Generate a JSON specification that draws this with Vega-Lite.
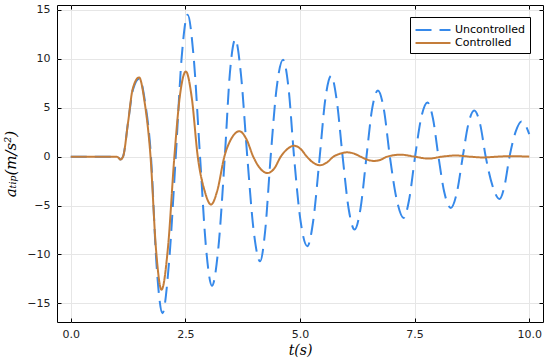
{
  "$schema": "https://vega.github.io/schema/vega-lite/v6.json",
  "autosize": {"type": "none"},
  "width": 486,
  "height": 317,
  "padding": {"left": 57, "top": 5, "right": 7, "bottom": 39},
  "background": "white",
  "config": {
    "view": {"stroke": "#000", "strokeWidth": 1},
    "axis": {
      "labelFont": "DejaVu Sans",
      "labelFontSize": 11,
      "labelColor": "#222",
      "tickColor": "#000",
      "tickSize": -4,
      "domain": false,
      "gridColor": "#e6e6e6",
      "gridWidth": 1,
      "titleFont": "DejaVu Serif",
      "titleFontStyle": "italic",
      "titleFontWeight": "normal",
      "titleFontSize": 14,
      "titleColor": "#000"
    },
    "legend": {
      "labelFont": "DejaVu Sans",
      "labelFontSize": 11,
      "labelColor": "#000"
    }
  },
  "data": {
    "values": [
      {"series": "Uncontrolled", "t": 0, "a": 0},
      {"series": "Uncontrolled", "t": 0.5, "a": 0},
      {"series": "Uncontrolled", "t": 1.0, "a": 0},
      {"series": "Uncontrolled", "t": 1.04, "a": -0.1},
      {"series": "Uncontrolled", "t": 1.08, "a": -0.3},
      {"series": "Uncontrolled", "t": 1.14, "a": 0},
      {"series": "Uncontrolled", "t": 1.25, "a": 3.5},
      {"series": "Uncontrolled", "t": 1.36, "a": 6.9},
      {"series": "Uncontrolled", "t": 1.5, "a": 8.0},
      {"series": "Uncontrolled", "t": 1.62, "a": 5.6},
      {"series": "Uncontrolled", "t": 1.75, "a": 0},
      {"series": "Uncontrolled", "t": 1.87, "a": -11.0},
      {"series": "Uncontrolled", "t": 2.0, "a": -16.0},
      {"series": "Uncontrolled", "t": 2.14, "a": -11.0},
      {"series": "Uncontrolled", "t": 2.29, "a": 0},
      {"series": "Uncontrolled", "t": 2.42, "a": 10.2},
      {"series": "Uncontrolled", "t": 2.55, "a": 14.5},
      {"series": "Uncontrolled", "t": 2.68, "a": 10.2},
      {"series": "Uncontrolled", "t": 2.82, "a": 0},
      {"series": "Uncontrolled", "t": 2.95, "a": -9.3},
      {"series": "Uncontrolled", "t": 3.08, "a": -13.2},
      {"series": "Uncontrolled", "t": 3.22, "a": -9.3},
      {"series": "Uncontrolled", "t": 3.36, "a": 0},
      {"series": "Uncontrolled", "t": 3.47, "a": 8.5},
      {"series": "Uncontrolled", "t": 3.59, "a": 12.0},
      {"series": "Uncontrolled", "t": 3.71, "a": 8.5},
      {"series": "Uncontrolled", "t": 3.85, "a": 0},
      {"series": "Uncontrolled", "t": 3.99, "a": -7.6},
      {"series": "Uncontrolled", "t": 4.13, "a": -10.7},
      {"series": "Uncontrolled", "t": 4.24, "a": -7.6},
      {"series": "Uncontrolled", "t": 4.36, "a": 0},
      {"series": "Uncontrolled", "t": 4.49, "a": 7.0},
      {"series": "Uncontrolled", "t": 4.63, "a": 9.9},
      {"series": "Uncontrolled", "t": 4.75, "a": 7.0},
      {"series": "Uncontrolled", "t": 4.87, "a": 0},
      {"series": "Uncontrolled", "t": 5.01, "a": -6.5},
      {"series": "Uncontrolled", "t": 5.16, "a": -9.15},
      {"series": "Uncontrolled", "t": 5.29, "a": -6.5},
      {"series": "Uncontrolled", "t": 5.43, "a": 0},
      {"series": "Uncontrolled", "t": 5.55, "a": 5.8},
      {"series": "Uncontrolled", "t": 5.68, "a": 8.27},
      {"series": "Uncontrolled", "t": 5.8, "a": 5.8},
      {"series": "Uncontrolled", "t": 5.93, "a": 0},
      {"series": "Uncontrolled", "t": 6.06, "a": -5.3},
      {"series": "Uncontrolled", "t": 6.19, "a": -7.45},
      {"series": "Uncontrolled", "t": 6.32, "a": -5.3},
      {"series": "Uncontrolled", "t": 6.45, "a": 0},
      {"series": "Uncontrolled", "t": 6.57, "a": 4.8},
      {"series": "Uncontrolled", "t": 6.7, "a": 6.77},
      {"series": "Uncontrolled", "t": 6.83, "a": 4.8},
      {"series": "Uncontrolled", "t": 6.96, "a": 0},
      {"series": "Uncontrolled", "t": 7.11, "a": -4.4},
      {"series": "Uncontrolled", "t": 7.26, "a": -6.26},
      {"series": "Uncontrolled", "t": 7.38, "a": -4.4},
      {"series": "Uncontrolled", "t": 7.51, "a": 0},
      {"series": "Uncontrolled", "t": 7.64, "a": 3.9},
      {"series": "Uncontrolled", "t": 7.78, "a": 5.54},
      {"series": "Uncontrolled", "t": 7.9, "a": 3.9},
      {"series": "Uncontrolled", "t": 8.02, "a": 0},
      {"series": "Uncontrolled", "t": 8.15, "a": -3.7},
      {"series": "Uncontrolled", "t": 8.29, "a": -5.24},
      {"series": "Uncontrolled", "t": 8.42, "a": -3.7},
      {"series": "Uncontrolled", "t": 8.55, "a": 0},
      {"series": "Uncontrolled", "t": 8.67, "a": 3.3},
      {"series": "Uncontrolled", "t": 8.8, "a": 4.72},
      {"series": "Uncontrolled", "t": 8.93, "a": 3.3},
      {"series": "Uncontrolled", "t": 9.05, "a": 0},
      {"series": "Uncontrolled", "t": 9.2, "a": -3.0},
      {"series": "Uncontrolled", "t": 9.35, "a": -4.32},
      {"series": "Uncontrolled", "t": 9.46, "a": -3.0},
      {"series": "Uncontrolled", "t": 9.57, "a": 0},
      {"series": "Uncontrolled", "t": 9.7, "a": 2.5},
      {"series": "Uncontrolled", "t": 9.83, "a": 3.6},
      {"series": "Uncontrolled", "t": 9.93, "a": 3.1},
      {"series": "Uncontrolled", "t": 10.0, "a": 2.3},
      {"series": "Controlled", "t": 0, "a": 0},
      {"series": "Controlled", "t": 0.5, "a": 0},
      {"series": "Controlled", "t": 1.0, "a": 0},
      {"series": "Controlled", "t": 1.04, "a": -0.1},
      {"series": "Controlled", "t": 1.08, "a": -0.3},
      {"series": "Controlled", "t": 1.14, "a": 0},
      {"series": "Controlled", "t": 1.25, "a": 3.5},
      {"series": "Controlled", "t": 1.35, "a": 6.9},
      {"series": "Controlled", "t": 1.49, "a": 8.1},
      {"series": "Controlled", "t": 1.61, "a": 5.6},
      {"series": "Controlled", "t": 1.74, "a": 0},
      {"series": "Controlled", "t": 1.86, "a": -9.5},
      {"series": "Controlled", "t": 1.98, "a": -13.6},
      {"series": "Controlled", "t": 2.12, "a": -9.3},
      {"series": "Controlled", "t": 2.26, "a": 0},
      {"series": "Controlled", "t": 2.38, "a": 6.2},
      {"series": "Controlled", "t": 2.51, "a": 8.7},
      {"series": "Controlled", "t": 2.64, "a": 6.0},
      {"series": "Controlled", "t": 2.77, "a": 0},
      {"series": "Controlled", "t": 2.92, "a": -3.5},
      {"series": "Controlled", "t": 3.06, "a": -4.9},
      {"series": "Controlled", "t": 3.2, "a": -3.4},
      {"series": "Controlled", "t": 3.35, "a": 0},
      {"series": "Controlled", "t": 3.51, "a": 1.9},
      {"series": "Controlled", "t": 3.68, "a": 2.6},
      {"series": "Controlled", "t": 3.83, "a": 1.8},
      {"series": "Controlled", "t": 3.98, "a": 0},
      {"series": "Controlled", "t": 4.13, "a": -1.2},
      {"series": "Controlled", "t": 4.29, "a": -1.67},
      {"series": "Controlled", "t": 4.44, "a": -1.2},
      {"series": "Controlled", "t": 4.58, "a": 0},
      {"series": "Controlled", "t": 4.73, "a": 0.8},
      {"series": "Controlled", "t": 4.87, "a": 1.12},
      {"series": "Controlled", "t": 5.01, "a": 0.8},
      {"series": "Controlled", "t": 5.15, "a": 0},
      {"series": "Controlled", "t": 5.29, "a": -0.62},
      {"series": "Controlled", "t": 5.43, "a": -0.88},
      {"series": "Controlled", "t": 5.58, "a": -0.62},
      {"series": "Controlled", "t": 5.73, "a": 0},
      {"series": "Controlled", "t": 5.88, "a": 0.31},
      {"series": "Controlled", "t": 6.03, "a": 0.44},
      {"series": "Controlled", "t": 6.18, "a": 0.31},
      {"series": "Controlled", "t": 6.32, "a": 0},
      {"series": "Controlled", "t": 6.47, "a": -0.31},
      {"series": "Controlled", "t": 6.62, "a": -0.44},
      {"series": "Controlled", "t": 6.76, "a": -0.31},
      {"series": "Controlled", "t": 6.9, "a": 0},
      {"series": "Controlled", "t": 7.2, "a": 0.2},
      {"series": "Controlled", "t": 7.5, "a": 0},
      {"series": "Controlled", "t": 7.8, "a": -0.2},
      {"series": "Controlled", "t": 8.1, "a": 0},
      {"series": "Controlled", "t": 8.4, "a": 0.12},
      {"series": "Controlled", "t": 8.7, "a": 0},
      {"series": "Controlled", "t": 9.0, "a": -0.08},
      {"series": "Controlled", "t": 9.3, "a": 0},
      {"series": "Controlled", "t": 9.6, "a": 0.05},
      {"series": "Controlled", "t": 10.0, "a": 0}
    ]
  },
  "resolve": {"axis": {"x": "independent", "y": "independent"}},
  "layer": [
    {
      "transform": [{"filter": "datum.series === 'Uncontrolled'"}],
      "mark": {"type": "line", "interpolate": "monotone", "strokeWidth": 2},
      "encoding": {
        "x": {
          "field": "t", "type": "quantitative",
          "scale": {"domain": [-0.3, 10.3], "nice": false, "zero": false},
          "axis": {"orient": "bottom", "values": [0, 2.5, 5, 7.5, 10], "format": ".1f", "title": "t(s)", "labelPadding": 10, "titlePadding": 4}
        },
        "y": {
          "field": "a", "type": "quantitative",
          "scale": {"domain": [-16.9, 15.5], "nice": false, "zero": false},
          "axis": {"orient": "left", "values": [-15, -10, -5, 0, 5, 10, 15], "format": "d", "title": "aₜᵢₚ(m/s²)", "titleFontSize": 15, "labelPadding": 11, "titlePadding": 8}
        },
        "color": {
          "field": "series", "type": "nominal",
          "scale": {"domain": ["Uncontrolled", "Controlled"], "range": ["#3689ea", "#c47d3a"]},
          "legend": {
            "title": null, "orient": "none", "legendX": 353, "legendY": 12,
            "symbolType": "M-2.5,0H2.5", "symbolSize": 196, "symbolStrokeWidth": 2,
            "symbolOffset": 10,
            "strokeColor": "#000", "fillColor": "#fff", "padding": 5, "cornerRadius": 0,
            "labelOffset": 14, "rowPadding": 0
          }
        },
        "strokeDash": {
          "field": "series", "type": "nominal",
          "scale": {"domain": ["Uncontrolled", "Controlled"], "range": [[16, 8], [1, 0]]},
          "legend": {
            "title": null, "orient": "none", "legendX": 353, "legendY": 12,
            "symbolType": "M-2.5,0H2.5", "symbolSize": 196, "symbolStrokeWidth": 2,
            "symbolOffset": 10,
            "strokeColor": "#000", "fillColor": "#fff", "padding": 5, "cornerRadius": 0,
            "labelOffset": 14, "rowPadding": 0
          }
        }
      }
    },
    {
      "transform": [{"filter": "datum.series === 'Controlled'"}],
      "mark": {"type": "line", "interpolate": "monotone", "strokeWidth": 2},
      "encoding": {
        "x": {"field": "t", "type": "quantitative", "axis": {"orient": "top", "values": [0, 2.5, 5, 7.5, 10], "labels": false, "grid": false, "title": null}},
        "y": {"field": "a", "type": "quantitative", "axis": {"orient": "right", "values": [-15, -10, -5, 0, 5, 10, 15], "labels": false, "grid": false, "title": null}},
        "color": {"field": "series", "type": "nominal"},
        "strokeDash": {"field": "series", "type": "nominal"}
      }
    }
  ]
}
